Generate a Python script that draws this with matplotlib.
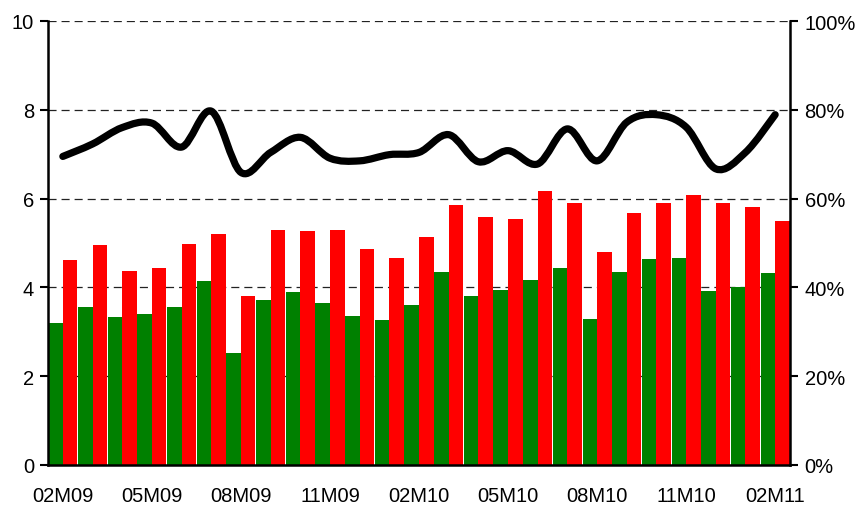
import matplotlib
matplotlib.use("Agg")
import matplotlib.pyplot as plt
import numpy as np
from matplotlib.path import Path
from matplotlib.patches import PathPatch
from matplotlib.ticker import FuncFormatter

plt.rcParams['font.family'] = ['Liberation Sans', 'DejaVu Sans']
plt.rcParams['lines.scale_dashes'] = False

months = ["02M09", "03M09", "04M09", "05M09", "06M09", "07M09", "08M09", "09M09",
          "10M09", "11M09", "12M09", "01M10", "02M10", "03M10", "04M10", "05M10",
          "06M10", "07M10", "08M10", "09M10", "10M10", "11M10", "12M10", "01M11", "02M11"]
green_vals = [3.20, 3.56, 3.34, 3.41, 3.56, 4.15, 2.53, 3.72, 3.90, 3.65, 3.36, 3.27, 3.61,
              4.35, 3.81, 3.95, 4.17, 4.44, 3.29, 4.35, 4.65, 4.67, 3.92, 4.02, 4.33]
red_vals = [4.62, 4.96, 4.38, 4.44, 4.98, 5.21, 3.81, 5.30, 5.28, 5.30, 4.87, 4.67, 5.14,
            5.86, 5.59, 5.55, 6.18, 5.89, 4.80, 5.68, 5.89, 6.07, 5.89, 5.80, 5.50]
ratio_pct = [69.5, 72.3, 76.0, 77.0, 71.6, 79.7, 65.9, 70.4, 73.8, 69.1, 68.5, 69.9, 70.4,
             74.4, 68.3, 70.8, 67.8, 75.7, 68.5, 77.2, 78.9, 76.1, 66.7, 70.4, 78.9]
left_ticks = [0, 2, 4, 6, 8, 10]
right_ticks = [0, 20, 40, 60, 80, 100]

W, H = 859, 506
fig = plt.figure(figsize=(W / 100, H / 100), dpi=100)
ax = fig.add_axes([48 / W, 40 / H, (790 - 48) / W, (466 - 22) / H])

x = np.arange(len(months))
bw = 0.49
ax.bar(x - bw / 2, green_vals, width=bw, color="#008000", zorder=2)
ax.bar(x + bw / 2, red_vals, width=bw, color="#FF0000", zorder=2)

ax.set_xlim(-0.5, len(months) - 0.5)
ax.set_ylim(0, 10)
ax.set_yticks(left_ticks)
ax.set_axisbelow(True)
ax.yaxis.grid(True, color="#222222", linewidth=0.9, linestyle=(0, (5.8, 3.6)), zorder=0)
ax.set_xticks(x[::3])
ax.set_xticklabels(months[::3])
ax.tick_params(axis="x", length=0, pad=15, labelsize=14.5)
ax.tick_params(axis="y", direction="out", length=5.5, width=1.5, pad=4.5, labelsize=14.5)

for s in ["top", "right"]:
    ax.spines[s].set_visible(False)
for s in ["left", "bottom"]:
    ax.spines[s].set_linewidth(1.8)

ax2 = ax.twinx()
ax2.set_ylim(0, 100)
ax2.set_yticks(right_ticks)
ax2.yaxis.set_major_formatter(FuncFormatter(lambda v, p: f"{int(v)}%"))
ax2.tick_params(axis="y", direction="out", length=5.5, width=1.5, pad=5, labelsize=14.5)
for s in ["top", "left", "bottom"]:
    ax2.spines[s].set_visible(False)
ax2.spines["right"].set_linewidth(1.8)

# smoothed line (Bezier segments through the data points)
pts = np.column_stack([x, ratio_pct]).astype(float)
n = len(pts)
verts = [pts[0]]
codes = [Path.MOVETO]
for i in range(n - 1):
    p0 = pts[i - 1] if i > 0 else pts[i]
    p1 = pts[i]
    p2 = pts[i + 1]
    p3 = pts[i + 2] if i + 2 < n else pts[i + 1]
    c1 = p1 + (p2 - p0) / 6.0
    c2 = p2 - (p3 - p1) / 6.0
    verts += [c1, c2, p2]
    codes += [Path.CURVE4] * 3
path = Path(verts, codes)
patch = PathPatch(path, facecolor="none", edgecolor="black", linewidth=5.2,
                  capstyle="round", joinstyle="round", transform=ax2.transData, zorder=5)
ax2.add_patch(patch)

fig.savefig("out.png", dpi=100)
